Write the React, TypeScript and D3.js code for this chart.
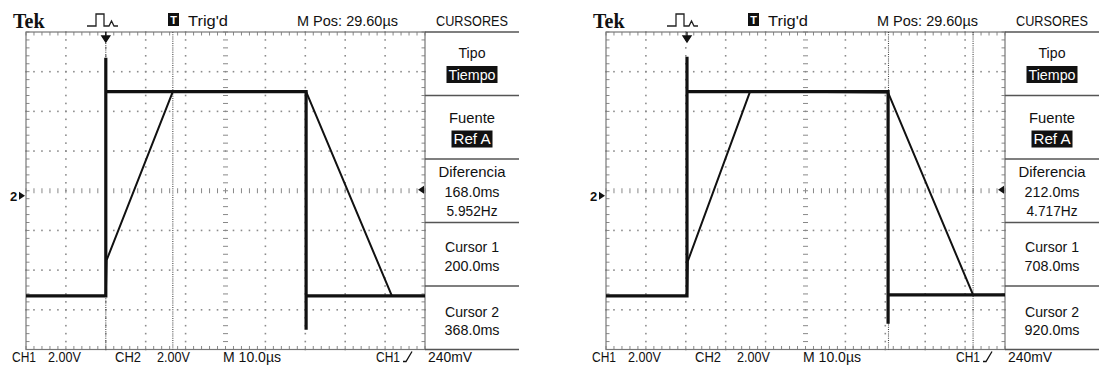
import React from 'react';
import * as d3 from 'd3';

type Pt = [number, number];

// Scope scales: 100 ms/div over 10 divisions, 2.00 V/div over 8 divisions
const timeDomain: [number, number] = [0, 1000];
const voltDomain: [number, number] = [-8, 8];
const divT = 100;
const divV = 2;

// ---- Left screen ----
const leftSquare: Pt[] = [[0, -5.3], [200, -5.3], [200, 6.7], [200, 5.0], [702, 5.0], [702, -7.0], [702, -5.3], [1000, -5.3]];
const leftRamp: Pt[] = [[0, -5.3], [200, -5.3], [202, -3.5], [368, 5.0], [702, 5.0], [917, -5.3], [1000, -5.3]];
const leftCursors = [200, 368];
const leftTrigger = 200;
const leftDiff = ['168.0ms', '5.952Hz'];
const leftC1 = '200.0ms';
const leftC2 = '368.0ms';

// ---- Right screen ----
const rightSquare: Pt[] = [[0, -5.3], [203, -5.3], [203, 6.75], [203, 5.0], [707, 5.0], [707, -6.7], [707, -5.25], [1000, -5.25]];
const rightRamp: Pt[] = [[0, -5.3], [203, -5.3], [205, -3.55], [361, 5.0], [707, 4.95], [920, -5.25], [1000, -5.25]];
const rightCursors = [708, 920];
const rightTrigger = 203;
const rightDiff = ['212.0ms', '4.717Hz'];
const rightC1 = '708.0ms';
const rightC2 = '920.0ms';

// ---- Labels ----
const brand = 'Tek';
const trigLabel = "Trig'd";
const posLabel = 'M Pos: 29.60µs';
const menuTitle = 'CURSORES';
const typeLabels = ['Tipo', 'Tiempo'];
const sourceLabels = ['Fuente', 'Ref A'];
const diffLabel = 'Diferencia';
const cursorLabels = ['Cursor 1', 'Cursor 2'];
const bottomLabels = ['CH1', '2.00V', 'CH2', '2.00V', 'M 10.0µs', 'CH1', '240mV'];
const ch2Marker = '2';
const ch2MarkerV = -0.25;
const trigLevelV = 0.05;

const FONT = "'Liberation Sans Narrow','Arial Narrow','Liberation Sans',Arial,sans-serif";

const widths: Record<string, number> = {
  'Tipo': 27, 'Tiempo': 47, 'Fuente': 46, 'Ref A': 37, 'Diferencia': 67,
  'Cursor 1': 54, 'Cursor 2': 54, "Trig'd": 40, 'M Pos: 29.60µs': 101, 'CURSORES': 72,
  'CH1': 24, '2.00V': 33, 'CH2': 26, 'M 10.0µs': 58, '240mV': 44,
};
function widthOf(s: string): number {
  if (widths[s]) return widths[s];
  if (s.endsWith('ms')) return 55;
  if (s.endsWith('Hz')) return 51;
  return s.length * 7;
}

function T({ x, y, s, size = 14.5, anchor = 'start', fill = '#111' }: { x: number; y: number; s: string; size?: number; anchor?: string; fill?: string }) {
  return (
    <text x={x} y={y} fontSize={size} textAnchor={anchor as any} fill={fill} textLength={widthOf(s)} lengthAdjust="spacingAndGlyphs">
      {s}
    </text>
  );
}

function Screen({ off, square, ramp, cursors, trig, diff, c1, c2 }: {
  off: number; square: Pt[]; ramp: Pt[]; cursors: number[]; trig: number; diff: string[]; c1: string; c2: string;
}) {
  const gx0 = 26 + off, gx1 = 425 + off, gy0 = 32, gy1 = 349.5;
  const x = d3.scaleLinear().domain(timeDomain).range([gx0, gx1]);
  const y = d3.scaleLinear().domain(voltDomain).range([gy1, gy0]);
  const line = d3.line<Pt>().x(d => x(d[0])).y(d => y(d[1]));

  const minorT = divT / 5, minorV = divV / 5;
  const tMinor = d3.range(0, 51).map(i => timeDomain[0] + i * minorT);
  const vMinor = d3.range(0, 41).map(i => voltDomain[0] + i * minorV);
  const tMajor = d3.range(1, 10).map(i => timeDomain[0] + i * divT);
  const vMajor = d3.range(1, 8).map(i => voltDomain[0] + i * divV);
  const tCenter = (timeDomain[0] + timeDomain[1]) / 2;
  const vCenter = 0;

  const dots: Pt[] = [];
  tMajor.forEach(t => { if (t !== tCenter) vMinor.forEach(v => dots.push([x(t), y(v)])); });
  vMajor.forEach(v => { if (v !== vCenter) tMinor.forEach(t => dots.push([x(t), y(v)])); });

  const ticks: string[] = [];
  tMinor.forEach(t => {
    ticks.push(`M${x(t)},${gy0}v3.5`);
    ticks.push(`M${x(t)},${gy1}v-3.5`);
    ticks.push(`M${x(t)},${y(vCenter) - 2.5}v5`);
  });
  vMinor.forEach(v => {
    ticks.push(`M${gx0},${y(v)}h3.5`);
    ticks.push(`M${gx1},${y(v)}h-3.5`);
    ticks.push(`M${x(tCenter) - 2.5},${y(v)}h5`);
  });

  const mx0 = gx1, mx1 = 519 + off, mcx = 472 + off;
  const boxH = (gy1 - gy0) / 5;
  const tops = d3.range(0, 5).map(i => gy0 + i * boxH);

  const hl = (s: string, top: number) => {
    const w = widthOf(s);
    return (
      <g>
        <rect x={mcx - w / 2 - 2} y={top + 34} width={w + 4} height={17} fill="#111" />
        <T x={mcx} y={top + 47.5} s={s} anchor="middle" fill="#fff" />
      </g>
    );
  };

  const tx = x(trig);
  const mkY = y(ch2MarkerV);
  const tlY = y(trigLevelV);

  return (
    <g>
      {/* header */}
      <text x={13 + off} y={28} fontFamily="'Liberation Serif','Times New Roman',serif" fontWeight="bold" fontSize={20} fill="#111">{brand}</text>
      <path d={`M${87 + off},26 H${96 + off} V14 H${104 + off} V26 H${109 + off} L${111.5 + off},21 L${114 + off},26 H${118 + off}`} fill="none" stroke="#222" strokeWidth={1.3} />
      <rect x={168 + off} y={13} width={11} height={13} fill="#111" />
      <text x={173.5 + off} y={24} fontSize={11} fontWeight="bold" textAnchor="middle" fill="#fff">T</text>
      <T x={188 + off} y={25.5} s={trigLabel} size={15} />
      <T x={297 + off} y={26} s={posLabel} size={15} />
      <T x={mcx} y={26} s={menuTitle} size={15} anchor="middle" />

      {/* graticule */}
      <g fill="#8c8c8c">
        {dots.map((d, i) => <rect key={i} x={d[0] - 0.8} y={d[1] - 0.8} width={1.6} height={1.6} />)}
      </g>
      <path d={ticks.join('')} stroke="#888" strokeWidth={1} fill="none" />
      <rect x={gx0} y={gy0} width={gx1 - gx0} height={gy1 - gy0} fill="none" stroke="#777" strokeWidth={1.2} />

      {/* cursors */}
      {cursors.map((c, i) => (
        <line key={i} x1={x(c)} x2={x(c)} y1={gy0} y2={gy1} stroke="#444" strokeWidth={1.1} strokeDasharray="1 1.2" />
      ))}

      {/* traces */}
      <path d={line(ramp) || ''} fill="none" stroke="#111" strokeWidth={2} strokeLinejoin="round" />
      <path d={line(square) || ''} fill="none" stroke="#111" strokeWidth={3.2} strokeLinejoin="miter" />

      {/* markers */}
      <path d={`M${tx},${gy0} V37 M${tx - 4},36 L${tx + 4},36 L${tx},42 Z`} fill="#111" stroke="#111" strokeWidth={1.3} />
      <text x={10 + off} y={mkY + 5} fontSize={13} fontWeight="bold" fill="#111" fontFamily="'Liberation Sans',Arial,sans-serif">{ch2Marker}</text>
      <path d={`M${19 + off},${mkY - 4} L${25 + off},${mkY} L${19 + off},${mkY + 4} Z`} fill="#111" />
      <path d={`M${gx1 - 7},${tlY} L${gx1 - 1},${tlY - 4} L${gx1 - 1},${tlY + 4} Z`} fill="#111" />

      {/* side menu */}
      {tops.concat([gy1]).map((t, i) => (
        <line key={i} x1={mx0} x2={mx1} y1={t} y2={t} stroke="#555" strokeWidth={1.6} />
      ))}
      <T x={mcx} y={tops[0] + 26} s={typeLabels[0]} anchor="middle" />
      {hl(typeLabels[1], tops[0])}
      <T x={mcx} y={tops[1] + 27.5} s={sourceLabels[0]} anchor="middle" />
      {hl(sourceLabels[1], tops[1] + 1)}
      <T x={mcx} y={tops[2] + 18} s={diffLabel} anchor="middle" />
      <T x={mcx} y={tops[2] + 37.5} s={diff[0]} anchor="middle" />
      <T x={mcx} y={tops[2] + 57} s={diff[1]} anchor="middle" />
      <T x={mcx} y={tops[3] + 29.5} s={cursorLabels[0]} anchor="middle" />
      <T x={mcx} y={tops[3] + 48.5} s={c1} anchor="middle" />
      <T x={mcx} y={tops[4] + 30.5} s={cursorLabels[1]} anchor="middle" />
      <T x={mcx} y={tops[4] + 49} s={c2} anchor="middle" />

      {/* bottom readout */}
      <T x={12 + off} y={362} s={bottomLabels[0]} size={14} />
      <T x={48 + off} y={362} s={bottomLabels[1]} size={14} />
      <T x={115 + off} y={362} s={bottomLabels[2]} size={14} />
      <T x={157 + off} y={362} s={bottomLabels[3]} size={14} />
      <T x={223 + off} y={362} s={bottomLabels[4]} size={14} />
      <T x={376 + off} y={362} s={bottomLabels[5]} size={14} />
      <path d={`M${403 + off},361.5 H${406 + off} L${412 + off},351.5`} fill="none" stroke="#111" strokeWidth={1.3} />
      <T x={428 + off} y={362} s={bottomLabels[6]} size={14} />
    </g>
  );
}

export default function App() {
  return (
    <svg width={1100} height={367} style={{ position: 'absolute', left: 0, top: 0 }} fontFamily={FONT}>
      <rect width={1100} height={367} fill="#fff" />
      <Screen off={0} square={leftSquare} ramp={leftRamp} cursors={leftCursors} trig={leftTrigger} diff={leftDiff} c1={leftC1} c2={leftC2} />
      <Screen off={580} square={rightSquare} ramp={rightRamp} cursors={rightCursors} trig={rightTrigger} diff={rightDiff} c1={rightC1} c2={rightC2} />
    </svg>
  );
}
